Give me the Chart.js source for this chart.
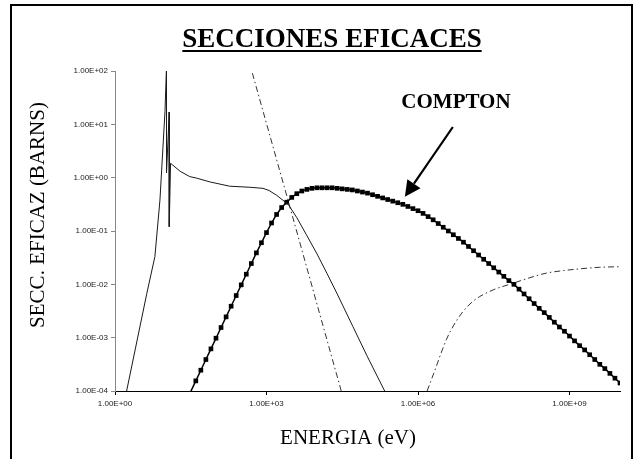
<!DOCTYPE html>
<html>
<head>
<meta charset="utf-8">
<script src="https://cdn.jsdelivr.net/npm/chart.js@4"></script>
<style>
html,body{margin:0;padding:0;background:#fff;}
canvas{display:block;}
</style>
</head>
<body>
<canvas id="c" width="635" height="459"></canvas>
<script>
// ---- data (as log10 values of energy in eV and cross section in barns) ----
const xTickValues = [1, 1e3, 1e6, 1e9];
const yTickValues = [1e-4, 1e-3, 1e-2, 1e-1, 1e0, 1e1, 1e2];

const photoLogE     = [0.23, 0.63, 0.79, 0.89, 0.99, 1.02, 1.02, 1.074, 1.074, 1.10, 1.29, 1.48, 1.62, 1.88, 2.27, 2.67, 2.93, 3.05, 3.20, 3.43, 3.60, 3.79, 4.00, 4.20, 4.40, 4.71, 5.00, 5.34];
const photoLogSigma = [-4.0, -2.17, -1.48, -0.42, 1.24, 2.10, 0.09, 1.23, -0.92, 0.27, 0.12, 0.02, -0.01, -0.08, -0.16, -0.18, -0.20, -0.24, -0.33, -0.50, -0.75, -1.07, -1.43, -1.80, -2.18, -2.79, -3.36, -4.0];

const rayleighLogE     = [2.72, 3.36, 4.48];
const rayleighLogSigma = [1.96, -0.20, -4.0];

const pairLogE     = [6.18, 6.30, 6.56, 6.70, 6.89, 7.05, 7.22, 7.50, 7.88, 8.20, 8.54, 8.90, 9.20, 9.60, 10.0];
const pairLogSigma = [-4.0, -3.70, -3.04, -2.78, -2.51, -2.35, -2.23, -2.10, -1.98, -1.88, -1.79, -1.74, -1.71, -1.68, -1.67];

const comptonLogE = [1.5,1.6,1.7,1.8,1.9,2.0,2.1,2.2,2.3,2.4,2.5,2.6,2.7,2.8,2.9,3.0,3.1,3.2,3.3,3.4,3.5,3.6,3.7,3.8,3.9,
  4.0,4.1,4.2,4.3,4.4,4.5,4.6,4.7,4.8,4.9,5.0,5.1,5.2,5.3,5.4,5.5,5.6,5.7,5.8,5.9,
  6.0,6.1,6.2,6.3,6.4,6.5,6.6,6.7,6.8,6.9,7.0,7.1,7.2,7.3,7.4,7.5,7.6,7.7,7.8,7.9,
  8.0,8.1,8.2,8.3,8.4,8.5,8.6,8.7,8.8,8.9,9.0,9.1,9.2,9.3,9.4,9.5,9.6,9.7,9.8,9.9,10.0];
const comptonLogSigma = [-4.01,-3.81,-3.61,-3.41,-3.21,-3.01,-2.81,-2.61,-2.41,-2.21,-2.01,-1.81,-1.61,-1.41,-1.22,-1.03,-0.85,-0.69,-0.56,-0.46,-0.37,-0.30,-0.25,-0.22,-0.20,
  -0.19,-0.19,-0.19,-0.19,-0.20,-0.21,-0.22,-0.23,-0.25,-0.27,-0.29,-0.32,-0.35,-0.38,-0.41,-0.44,-0.47,-0.50,-0.54,-0.58,
  -0.62,-0.67,-0.73,-0.79,-0.86,-0.93,-1.00,-1.07,-1.14,-1.21,-1.29,-1.37,-1.45,-1.53,-1.61,-1.69,-1.77,-1.85,-1.93,-2.00,
  -2.09,-2.18,-2.27,-2.36,-2.45,-2.53,-2.62,-2.71,-2.80,-2.88,-2.97,-3.06,-3.15,-3.23,-3.32,-3.41,-3.50,-3.58,-3.67,-3.76,-3.85];

// annotation anchor points (log10 energy, log10 sigma)
const arrowTail = [6.69, 0.95];
const arrowTip  = [5.74, -0.36];
const comptonLabelAt = [5.67, 1.30];

const titleText = 'SECCIONES EFICACES';
const xTitleText = 'ENERGIA (eV)';
const yTitleText = 'SECC. EFICAZ (BARNS)';
const comptonText = 'COMPTON';

// ---- build ----
const pts = (le, ls) => le.map((e, i) => ({x: Math.pow(10, e), y: Math.pow(10, ls[i])}));
function fmtExp(v){
  const e = Math.round(Math.log10(v));
  const m = v / Math.pow(10, e);
  return m.toFixed(2) + 'E' + (e < 0 ? '-' : '+') + String(Math.abs(e)).padStart(2, '0');
}

const overlay = {
  id: 'overlay',
  afterDraw(chart){
    const ctx = chart.ctx, xs = chart.scales.x, ys = chart.scales.y;
    const px = le => xs.getPixelForValue(Math.pow(10, le));
    const py = ls => ys.getPixelForValue(Math.pow(10, ls));
    ctx.save();
    // frame
    ctx.strokeStyle = '#000';
    ctx.lineWidth = 2;
    ctx.beginPath();
    ctx.moveTo(11, 470); ctx.lineTo(11, 5); ctx.lineTo(632, 5); ctx.lineTo(632, 470);
    ctx.stroke();
    // title
    ctx.fillStyle = '#000';
    ctx.font = 'bold 27px "Liberation Serif", "Times New Roman", serif';
    ctx.textAlign = 'center';
    ctx.textBaseline = 'alphabetic';
    const tcx = 332, tby = 47;
    ctx.fillText(titleText, tcx, tby);
    const tw = ctx.measureText(titleText).width;
    ctx.lineWidth = 2;
    ctx.beginPath();
    ctx.moveTo(tcx - tw/2, tby + 4); ctx.lineTo(tcx + tw/2, tby + 4);
    ctx.stroke();
    // x axis title
    ctx.font = '21px "Liberation Serif", "Times New Roman", serif';
    ctx.fillText(xTitleText, 348, 444);
    // y axis title
    ctx.save();
    ctx.translate(44, 215);
    ctx.rotate(-Math.PI/2);
    ctx.fillText(yTitleText, 0, 0);
    ctx.restore();
    // COMPTON label
    ctx.font = 'bold 21px "Liberation Serif", "Times New Roman", serif';
    ctx.textAlign = 'left';
    ctx.fillText(comptonText, px(comptonLabelAt[0]), py(comptonLabelAt[1]));
    // arrow
    const x0 = px(arrowTail[0]), y0 = py(arrowTail[1]);
    const x1 = px(arrowTip[0]),  y1 = py(arrowTip[1]);
    const ang = Math.atan2(y1 - y0, x1 - x0);
    const hl = 16, hw = 8;
    const bx = x1 - hl*Math.cos(ang), by = y1 - hl*Math.sin(ang);
    ctx.lineWidth = 2.2;
    ctx.beginPath(); ctx.moveTo(x0, y0); ctx.lineTo(bx, by); ctx.stroke();
    ctx.beginPath();
    ctx.moveTo(x1, y1);
    ctx.lineTo(bx + hw*Math.sin(ang), by - hw*Math.cos(ang));
    ctx.lineTo(bx - hw*Math.sin(ang), by + hw*Math.cos(ang));
    ctx.closePath(); ctx.fill();
    ctx.restore();
  }
};

const tickFont = {family: '"Liberation Sans", Arial, sans-serif', size: 8};

new Chart(document.getElementById('c'), {
  type: 'scatter',
  data: {
    datasets: [
      {data: pts(photoLogE, photoLogSigma), showLine: true, borderColor: '#1a1a1a', borderWidth: 1, pointRadius: 0, tension: 0},
      {data: pts(rayleighLogE, rayleighLogSigma), showLine: true, borderColor: '#333', borderWidth: 1, borderDash: [6, 3, 1.5, 3], pointRadius: 0},
      {data: pts(pairLogE, pairLogSigma), showLine: true, borderColor: '#333', borderWidth: 1, borderDash: [6, 3, 1.5, 3], pointRadius: 0, cubicInterpolationMode: 'monotone', tension: 0.4},
      {data: pts(comptonLogE, comptonLogSigma), showLine: true, borderColor: '#000', borderWidth: 1.5,
       pointStyle: 'rect', backgroundColor: '#000', pointBorderWidth: 0,
       pointRadius: c => (c.raw && c.raw.y < 1e-4) ? 0 : 3.3}
    ]
  },
  options: {
    responsive: false,
    animation: false,
    devicePixelRatio: 1,
    layout: {padding: {top: 71, right: 15, left: 0, bottom: 0}},
    plugins: {legend: {display: false}, tooltip: {enabled: false}, title: {display: false}},
    scales: {
      x: {
        type: 'logarithmic', min: 1, max: 1e10, position: 'bottom',
        afterBuildTicks: s => { s.ticks = xTickValues.map(v => ({value: v})); },
        afterFit: s => { s.height = 68; },
        grid: {drawOnChartArea: false, drawTicks: true, tickLength: 4, color: '#000'},
        border: {color: '#000', width: 1},
        ticks: {font: tickFont, color: '#222', padding: 4, maxRotation: 0, autoSkip: false, callback: v => fmtExp(v)}
      },
      y: {
        type: 'logarithmic', min: 1e-4, max: 1e2,
        afterBuildTicks: s => { s.ticks = yTickValues.map(v => ({value: v})); },
        afterFit: s => { s.width = 115; },
        grid: {drawOnChartArea: false, drawTicks: true, tickLength: 4, color: '#888'},
        border: {color: '#888', width: 1},
        ticks: {font: tickFont, color: '#222', padding: 3, autoSkip: false, callback: v => fmtExp(v)}
      }
    }
  },
  plugins: [overlay]
});
</script>
</body>
</html>
